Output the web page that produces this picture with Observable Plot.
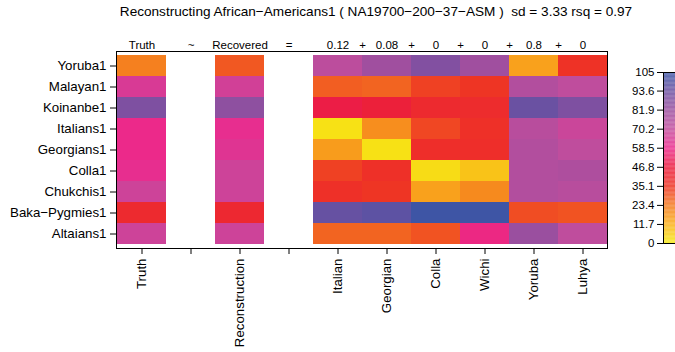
<!DOCTYPE html>
<html><head><meta charset="utf-8">
<script src="https://cdn.jsdelivr.net/npm/d3@7"></script>
<script src="https://cdn.jsdelivr.net/npm/@observablehq/plot@0.6"></script>
<style>
body{margin:0;background:#fff;font-family:"Liberation Sans",Arial,Helvetica,sans-serif;}
#wrap{position:relative;width:675px;height:352px;overflow:hidden;background:#fff;}
#wrap svg{position:absolute;top:0;overflow:visible;}
#title{position:absolute;top:2px;left:76px;width:600px;text-align:center;font-size:13.6px;line-height:20px;color:#000;white-space:nowrap;}
</style>
</head><body>
<div id="wrap"><div id="title">Reconstructing African−Americans1 ( NA19700−200−37−ASM )&nbsp; sd = 3.33 rsq = 0.97</div></div>
<script>
// ---- data ----
const columns = ["Truth","~","Reconstruction","=","Italian","Georgian","Colla","Wichi","Yoruba","Luhya"];
const columnTickLabels = ["Truth","","Reconstruction","","Italian","Georgian","Colla","Wichi","Yoruba","Luhya"];
const headerLabels = ["Truth","~","Recovered","=","0.12","0.08","0","0","0.8","0"];
const plusAfter = ["Italian","Georgian","Colla","Wichi","Yoruba"];
const rows = ["Yoruba1","Malayan1","Koinanbe1","Italians1","Georgians1","Colla1","Chukchis1","Baka−Pygmies1","Altaians1"];
const truth    = [22,64,89,58,58,60,67,40,67];
const recon    = [29,66,85,60,62,67,67,41,67];
const italian  = [72,28,48, 2,16,33,37,95,27];
const georgian = [80,27,45,19, 2,37,35,97,27];
const colla    = [88,33,40,32,38, 3,15,104,30];
const wichi    = [80,35,39,37,38, 8,20,104,57];
const yoruba   = [15,75,94,73,75,75,75,31,82];
const luhya    = [36,71,89,68,71,76,73,30,71];
const legendTicks = [0,11.7,23.4,35.1,46.8,58.5,70.2,81.9,93.6,105];
const paletteColors = ["#f6eb14","#fbb01a","#f47a20","#ee3424","#ec1c3e","#ec2a8d","#c24d9d","#9a4f9f","#6c51a2","#3a55a5"];

const seriesByColumn = {Truth:truth, Reconstruction:recon, Italian:italian, Georgian:georgian, Colla:colla, Wichi:wichi, Yoruba:yoruba, Luhya:luhya};
const cells = [];
for (const [col, vals] of Object.entries(seriesByColumn)) {
  vals.forEach((v, i) => cells.push({col, row: rows[i], value: v}));
}
const headers = columns.map((c, i) => ({col: c, label: headerLabels[i]}));
const pluses = plusAfter.map(c => ({col: c, label: "+"}));

const colorOpts = {type: "linear", domain: legendTicks, range: paletteColors, interpolate: "rgb"};
const FONT = '"Liberation Sans", Arial, Helvetica, sans-serif';

const main = Plot.plot({
  width: 675, height: 352,
  marginTop: 51, marginLeft: 116, marginRight: 68, marginBottom: 104,
  style: {fontFamily: FONT, color: "#000", background: "transparent"},
  x: {domain: columns, padding: 0, axis: null},
  y: {domain: rows, padding: 0, axis: null},
  color: colorOpts,
  marks: [
    Plot.cell(cells, {x: "col", y: "row", fill: "value", inset: 0}),
    Plot.frame({stroke: "#000", strokeWidth: 1}),
    Plot.axisX({tickSize: 6, tickPadding: 4, tickRotate: -90, fontSize: 13.3,
      tickFormat: d => columnTickLabels[columns.indexOf(d)], label: null, stroke: "#000"}),
    Plot.axisY({tickSize: 6, tickPadding: 4, fontSize: 13.3, label: null, stroke: "#000"}),
    Plot.text(headers, {x: "col", text: "label", frameAnchor: "top", dy: -11, fontSize: 11.5, fill: "#000"}),
    Plot.text(pluses, {x: "col", text: "label", frameAnchor: "top", dy: -11, dx: 24.5, fontSize: 11.5, fill: "#000"})
  ]
});

const legendBands = d3.range(0, 105, 0.5).map(v => ({y1: v, y2: Math.min(105, v + 0.5), v: v + 0.25}));
const legend = Plot.plot({
  width: 75, height: 352,
  marginTop: 72, marginBottom: 109, marginLeft: 63, marginRight: 0,
  style: {fontFamily: FONT, color: "#000", background: "transparent"},
  x: {domain: [0, 1], axis: null},
  y: {domain: [0, 105], axis: null},
  color: colorOpts,
  marks: [
    Plot.rect(legendBands, {x1: 0, x2: 1, y1: "y1", y2: "y2", fill: "v"}),
    Plot.frame({stroke: "#000"}),
    Plot.axisY({ticks: legendTicks, tickFormat: d => String(d), tickSize: 6, tickPadding: 3, fontSize: 11.5, label: null, stroke: "#000"})
  ]
});
legend.style.left = "600px";
main.style.left = "0px";
const wrap = document.getElementById("wrap");
wrap.appendChild(main);
wrap.appendChild(legend);
</script>
</body></html>
